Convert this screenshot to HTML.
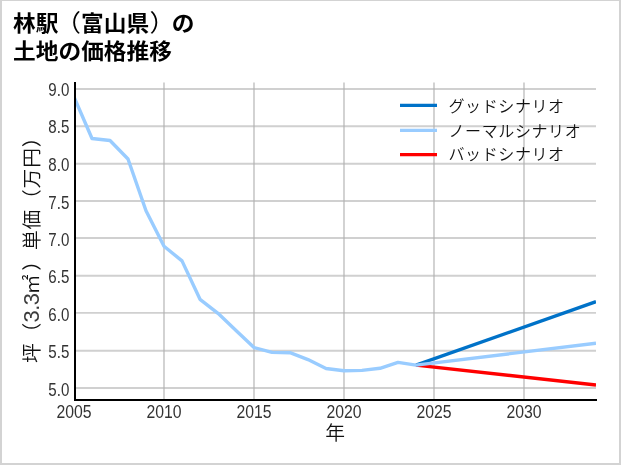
<!DOCTYPE html>
<html lang="ja">
<head>
<meta charset="utf-8">
<title>林駅（富山県）の土地の価格推移</title>
<style>
html,body{margin:0;padding:0;background:#fff;}
body{width:621px;height:465px;overflow:hidden;}
svg{display:block;}
text{font-family:"Liberation Sans","Noto Sans CJK JP",sans-serif;}
.title{font-weight:bold;font-size:22.7px;fill:#000;}
.par{font-weight:400;font-size:25.5px;}
.tick{font-size:18.3px;fill:#333;}
.leg{font-size:16px;letter-spacing:0.6px;fill:#111;font-weight:350;}
.lab{font-size:19.8px;letter-spacing:0.8px;fill:#111;font-weight:350;}
</style>
</head>
<body>
<svg width="621" height="465" viewBox="0 0 621 465">
  <rect x="0" y="0" width="621" height="465" fill="#d3d3d3"/>
  <rect x="2" y="1" width="617" height="462" fill="#ffffff"/>

  <!-- title -->
  <text class="title" transform="translate(13.1,30.7) scale(1,0.94)">林駅<tspan class="par" dx="-2.85" dy="0.5">（</tspan><tspan dx="0" dy="-0.5">富山県</tspan><tspan class="par" dx="0.35" dy="0.5">）</tspan><tspan dx="-3.15" dy="-0.5">の</tspan></text>
  <text class="title" transform="translate(13.1,58.6) scale(1,0.94)">土地の価格推移</text>

  <!-- grid -->
  <g stroke="#b0b0b0" stroke-opacity="0.6" stroke-width="1.9" fill="none">
    <path d="M164 82.5V400M254 82.5V400M344 82.5V400M434 82.5V400M524 82.5V400"/>
    <path d="M75 89H596M75 126.2H596M75 163.7H596M75 201H596M75 238H596M75 275.7H596M75 312.85H596M75 350.8H596M75 388H596"/>
  </g>

  <!-- data lines -->
  <clipPath id="plotclip"><rect x="74" y="82" width="522" height="319"/></clipPath>
  <g clip-path="url(#plotclip)" fill="none" stroke-width="3.4" stroke-linejoin="round">
    <path stroke="#ff0000" d="M416 365.1L596 385"/>
    <path stroke="#0072c8" d="M416 365.1L596 301.7"/>
    <path stroke="#99ccff" d="M74 97L92 138.5L110 140.5L128 159L146 210.8L164 246.2L182 260.9L200 299.3L218 313.3L236 330.4L254 347.6L272 352.4L290 352.7L308 359.6L326 368.5L344 370.8L362 370.4L380 368.3L398 362.4L416 365.1L596 343.2"/>
  </g>

  <!-- spines -->
  <rect x="74" y="82" width="2" height="319" fill="#000"/>
  <rect x="74" y="399" width="523" height="2" fill="#000"/>

  <!-- y tick labels -->
  <g class="tick" text-anchor="end">
    <text transform="translate(69.3,95.9) scale(0.825,1)">9.0</text>
    <text transform="translate(69.3,133.3) scale(0.825,1)">8.5</text>
    <text transform="translate(69.3,170.65) scale(0.825,1)">8.0</text>
    <text transform="translate(69.3,208.5) scale(0.825,1)">7.5</text>
    <text transform="translate(69.3,246.1) scale(0.825,1)">7.0</text>
    <text transform="translate(69.3,283.4) scale(0.825,1)">6.5</text>
    <text transform="translate(69.3,320.8) scale(0.825,1)">6.0</text>
    <text transform="translate(69.3,357.5) scale(0.825,1)">5.5</text>
    <text transform="translate(69.3,395.6) scale(0.825,1)">5.0</text>
  </g>

  <!-- x tick labels -->
  <g class="tick" text-anchor="middle">
    <text transform="translate(74,418) scale(0.863,1)">2005</text>
    <text transform="translate(164,418) scale(0.863,1)">2010</text>
    <text transform="translate(254,418) scale(0.863,1)">2015</text>
    <text transform="translate(344,418) scale(0.863,1)">2020</text>
    <text transform="translate(434,418) scale(0.863,1)">2025</text>
    <text transform="translate(524,418) scale(0.863,1)">2030</text>
  </g>

  <!-- axis labels -->
  <text class="lab" x="335.6" y="440.1" text-anchor="middle">年</text>
  <g transform="translate(38.8,363) rotate(-90)">
    <text class="lab" x="0" y="0">坪（</text>
    <text class="lab" x="40.6" y="0" style="font-size:21.8px;letter-spacing:-0.5px;fill:#3c3c3c">3.3</text>
    <text class="lab" x="68.8" y="0">㎡</text>
    <text class="lab" x="92.3" y="0">）単価（万円）</text>
  </g>

  <!-- legend -->
  <g fill="none" stroke-width="3.2">
    <path stroke="#0072c8" d="M400 105.4H437"/>
    <path stroke="#99ccff" d="M400 130.45H437"/>
    <path stroke="#ff0000" d="M400 154.55H437"/>
  </g>
  <text class="leg" x="448.5" y="111.5">グッドシナリオ</text>
  <text class="leg" x="448.5" y="136.8">ノーマルシナリオ</text>
  <text class="leg" x="448.5" y="160.2">バッドシナリオ</text>
</svg>
</body>
</html>
